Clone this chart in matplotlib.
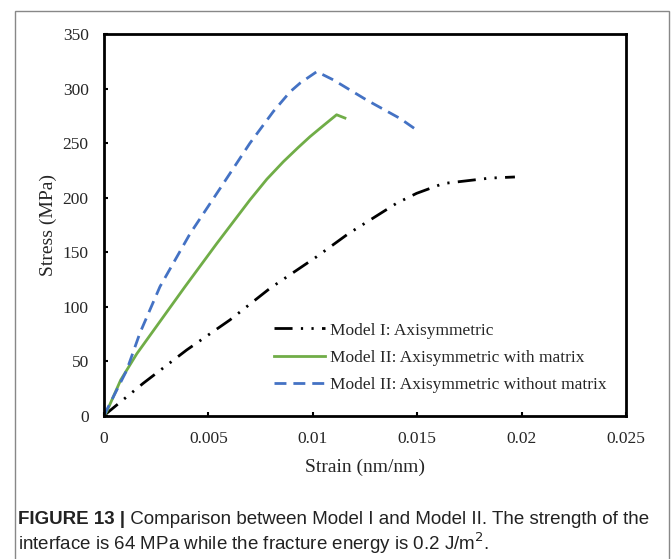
import matplotlib
matplotlib.use("Agg")
import matplotlib.pyplot as plt
from matplotlib.patches import Rectangle

# model I: axisymmetric
strain_m1 = [0, 0.00013, 0.00188, 0.00396, 0.00603, 0.00795, 0.01019, 0.0117,
             0.01402, 0.01497, 0.01625, 0.01849, 0.01968]
stress_m1 = [0, 2.5, 30, 60.5, 88, 117, 146, 167, 195, 204, 213, 218, 219]

# model II: with matrix
strain_m2 = [0, 0.00013, 0.0008, 0.00157, 0.00388, 0.0054, 0.00699, 0.0078, 0.00859,
             0.0093, 0.00987, 0.0105, 0.01114, 0.01154]
stress_m2 = [0, 4, 33, 57, 118.5, 158, 198, 217, 233, 246, 256, 266, 276, 273]

# model II: without matrix
strain_m3 = [0, 0.00013, 0.00109, 0.00172, 0.00268, 0.00412, 0.00556, 0.00699,
             0.00811, 0.00891, 0.00939, 0.01019, 0.01098, 0.01258, 0.01418, 0.01505]
stress_m3 = [0, 5.5, 42, 76, 118.5, 167, 208.5, 250, 279, 297, 305, 315.5, 308, 289.5, 272.6, 261]

labels = ["Model I: Axisymmetric",
          "Model II: Axisymmetric with matrix",
          "Model II: Axisymmetric without matrix"]

W, H = 671, 559
fig = plt.figure(figsize=(W / 100, H / 100), dpi=100)
ax = fig.add_axes([104 / W, 1 - 416 / H, 522 / W, 382 / H])

serif = "Liberation Serif"
txt = "#262626"
ax.plot(strain_m1, stress_m1, color="black", lw=2,
        linestyle=(0, (6.5, 3, 0.8, 3, 0.8, 3)), label=labels[0])
ax.plot(strain_m2, stress_m2, color="#70ad47", lw=2, label=labels[1])
ax.plot(strain_m3, stress_m3, color="#4472c4", lw=2, linestyle=(0, (4.3, 2.5)), label=labels[2])

ax.set_xlim(0, 0.025)
ax.set_ylim(0, 350)
ax.set_xticks([0, 0.005, 0.01, 0.015, 0.02, 0.025])
ax.set_xticklabels(["0", "0.005", "0.01", "0.015", "0.02", "0.025"])
ax.set_yticks(range(0, 351, 50))
ax.tick_params(direction="in", length=3, width=1.5, pad=11, labelsize=12.5, labelcolor=txt)
for lab in ax.get_xticklabels() + ax.get_yticklabels():
    lab.set_fontfamily(serif)
for sp in ax.spines.values():
    sp.set_linewidth(2)
ax.set_xlabel("Strain (nm/nm)", fontfamily=serif, fontsize=14, color=txt, labelpad=8)
ax.set_ylabel("Stress (MPa)", fontfamily=serif, fontsize=14, color=txt, labelpad=4)

ax.legend(loc="center left", bbox_to_anchor=(0.326, 0.152), frameon=False,
          prop={"family": serif, "size": 12.5}, handlelength=2.9, labelspacing=0.65,
          handletextpad=0.3, borderpad=0, borderaxespad=0, labelcolor=txt)

# outer frame
fig.patches.append(Rectangle((15 / W, -0.1), 654 / W, 1.1 - 11 / H,
                             transform=fig.transFigure, fill=False,
                             edgecolor="#888888", lw=1))

cap = ["Liberation Sans", "DejaVu Sans"]
t1 = fig.text(18 / W, 1 - 519 / H, "FIGURE 13 |", fontweight="bold",
              fontfamily=cap, fontsize=13.5, va="center", color="#222222")
ax.annotate(" Comparison between Model I and Model II. The strength of the",
            xy=(1, 0), xycoords=t1, xytext=(0, 0), textcoords="offset points",
            fontfamily=cap, fontsize=13.5, va="bottom", color="#222222",
            annotation_clip=False)
fig.text(18 / W, 1 - 543 / H, "interface is 64 MPa while the fracture energy is 0.2 J/m$^2$.",
         fontfamily=cap, fontsize=13.5, va="center", color="#222222")

fig.savefig("out.png", dpi=100)
